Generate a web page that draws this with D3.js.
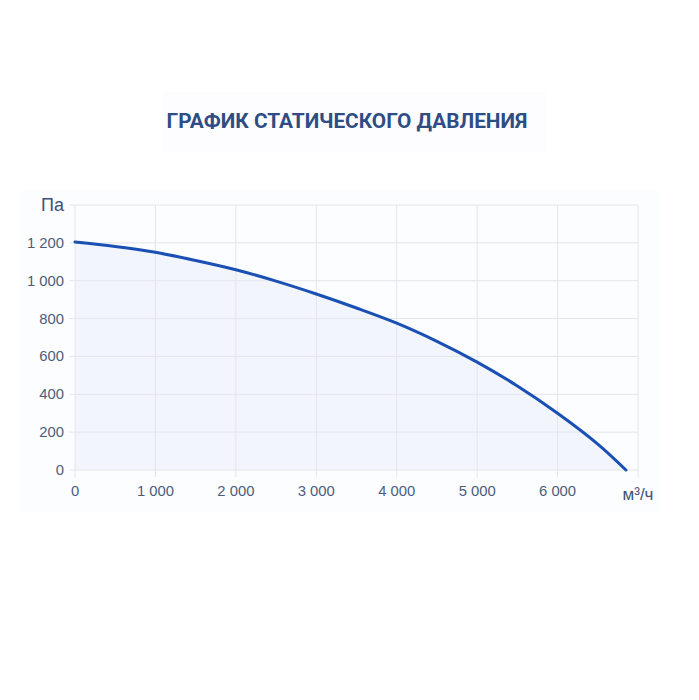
<!DOCTYPE html>
<html>
<head>
<meta charset="utf-8">
<script src="https://cdn.jsdelivr.net/npm/d3@7"></script>
<style>
  html, body { margin: 0; padding: 0; background: #ffffff; }
  svg { display: block; }
  text { font-family: "Liberation Sans", Arial, sans-serif; }
  .title { font-family: Roboto, "Noto Sans", sans-serif; }
</style>
</head>
<body>
<div id="chart"></div>
<script>
  // Chart data.
  var flow = [0, 500, 1000, 1500, 2000, 2500, 3000, 3500, 4000, 4500, 5000, 5500, 6000, 6500, 6850];
  var pressure = [1205, 1181, 1150, 1107, 1058, 998, 930, 856, 776, 680, 570, 444, 300, 137, 0];
  var xTicks = [0, 1000, 2000, 3000, 4000, 5000, 6000, 7000];
  var yTicks = [0, 200, 400, 600, 800, 1000, 1200, 1400];
  var title = 'ГРАФИК СТАТИЧЕСКОГО ДАВЛЕНИЯ';
  var xUnit = 'м³/ч';
  var yUnit = 'Па';

  var W = 699, H = 700;
  var fmt = function(v) {
    // space as thousands separator, like "1 200"
    return d3.format(',')(v).replace(/,/g, ' ');
  };

  var svg = d3.select('#chart').append('svg')
      .attr('width', W)
      .attr('height', H);

  // faint panels behind title and chart
  svg.append('rect')
      .attr('x', 162).attr('y', 92).attr('width', 385).attr('height', 60)
      .attr('fill', '#fdfdff');
  svg.append('rect')
      .attr('x', 20).attr('y', 190).attr('width', 640).attr('height', 322)
      .attr('fill', '#fcfdff');

  svg.append('text')
      .attr('class', 'title')
      .attr('x', 347).attr('y', 128)
      .attr('text-anchor', 'middle')
      .attr('font-size', 20.8)
      .attr('font-weight', 700)
      .attr('fill', '#2d4d84')
      .text(title);

  var x = d3.scaleLinear().domain([0, 7000]).range([75, 638]);
  var y = d3.scaleLinear().domain([0, 1400]).range([470, 205]);

  var data = flow.map(function(f, i) { return { f: f, p: pressure[i] }; });
  var curve = d3.curveCatmullRom.alpha(0.5);

  // area under the curve
  svg.append('path')
      .datum(data)
      .attr('fill', '#f2f5fb')
      .attr('d', d3.area()
        .x(function(d) { return x(d.f); })
        .y0(y(0))
        .y1(function(d) { return y(d.p); })
        .curve(curve));

  // grid
  svg.append('g').selectAll('line')
      .data(yTicks)
      .enter().append('line')
      .attr('x1', 69).attr('x2', x(7000))
      .attr('y1', function(d) { return y(d); })
      .attr('y2', function(d) { return y(d); })
      .attr('stroke', '#e4e6eb')
      .attr('stroke-width', 1);

  svg.append('g').selectAll('line')
      .data(xTicks)
      .enter().append('line')
      .attr('x1', function(d) { return x(d); })
      .attr('x2', function(d) { return x(d); })
      .attr('y1', y(1400)).attr('y2', y(0) + 7)
      .attr('stroke', '#e4e6eb')
      .attr('stroke-width', 1);

  // axis labels
  svg.append('g').selectAll('text')
      .data(yTicks.slice(0, 7))
      .enter().append('text')
      .attr('x', 64)
      .attr('y', function(d) { return y(d) + 5; })
      .attr('text-anchor', 'end')
      .attr('font-size', 14.8)
      .attr('fill', '#4b5d7c')
      .text(fmt);

  svg.append('text')
      .attr('x', 64).attr('y', y(1400) + 6)
      .attr('text-anchor', 'end')
      .attr('font-size', 18)
      .attr('fill', '#3f5275')
      .text(yUnit);

  svg.append('g').selectAll('text')
      .data(xTicks.slice(0, 7))
      .enter().append('text')
      .attr('x', function(d) { return x(d); })
      .attr('y', 496)
      .attr('text-anchor', 'middle')
      .attr('font-size', 14.8)
      .attr('fill', '#4b5d7c')
      .text(fmt);

  svg.append('text')
      .attr('x', x(7000)).attr('y', 500)
      .attr('text-anchor', 'middle')
      .attr('font-size', 17)
      .attr('fill', '#3f5275')
      .text(xUnit);

  // the curve
  svg.append('path')
      .datum(data)
      .attr('fill', 'none')
      .attr('stroke', '#1a4fb4')
      .attr('stroke-width', 3)
      .attr('stroke-linecap', 'round')
      .attr('d', d3.line()
        .x(function(d) { return x(d.f); })
        .y(function(d) { return y(d.p); })
        .curve(curve));
</script>
</body>
</html>
